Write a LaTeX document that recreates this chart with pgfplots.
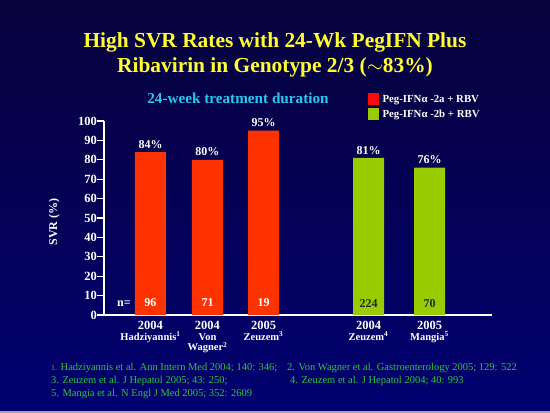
\documentclass[border=0pt]{standalone}
\usepackage{pgfplots}
\pgfplotsset{compat=1.18}
\usepackage{fontspec}
\setmainfont{Liberation Serif}
\definecolor{bgtop}{RGB}{8,2,60}
\definecolor{bgbot}{RGB}{0,0,112}
\definecolor{barred}{RGB}{255,51,0}
\definecolor{legred}{RGB}{250,10,10}
\definecolor{bargreen}{RGB}{153,204,0}
\definecolor{titley}{RGB}{255,255,51}
\definecolor{subcyan}{RGB}{40,200,240}
\definecolor{refgreen}{RGB}{45,200,60}
\begin{document}
\begin{tikzpicture}[x=1pt,y=1pt]
\useasboundingbox (0,0) rectangle (550,413);
\shade[top color=bgtop, bottom color=bgbot] (0,0) rectangle (550,413);
\fill[gray!70] (0,0) rectangle (550,2);
% title
\node[text=titley, font=\bfseries\fontsize{21.4}{25}\selectfont, align=center, anchor=base] at (275,365) {High SVR Rates with 24-Wk PegIFN Plus};
\node[text=titley, font=\bfseries\fontsize{21.4}{25}\selectfont, align=center, anchor=base] at (275,340) {Ribavirin in Genotype 2/3 ($\sim$83\%)};
\node[text=subcyan, font=\bfseries\fontsize{15.2}{18}\selectfont, anchor=base] at (238,309) {24-week treatment duration};
\begin{axis}[
  scale only axis, width=388pt, height=194pt,
  at={(104pt,98pt)}, anchor=south west,
  xmin=104, xmax=492, ymin=0, ymax=100,
  axis x line=bottom, axis y line=left,
  axis line style={white, line width=1.4pt, -},
  x axis line style={line width=1.6pt},
  ytick={0,10,...,100}, ytick style={white, line width=1.2pt},
  tick align=outside, major tick length=7pt,
  xtick={150.5,207.5,263.5,368.5,429.5}, xtick style={draw=none},
  xticklabels={2004,2004,2005,2004,2005},
  /pgf/number format/assume math mode=true,
  yticklabel style={text=white, font=\bfseries\fontsize{12.5}{14}\selectfont, inner xsep=0pt},
  xticklabel style={text=white, font=\bfseries\fontsize{12.5}{14}\selectfont, inner ysep=2pt, yshift=3.5pt},
  ylabel={SVR (\%)}, ylabel style={text=white, font=\bfseries\fontsize{12}{14}\selectfont, at={(axis description cs:-0.105,0.48)}},
  legend style={at={(0.68,1.145)}, anchor=north west, draw=none, fill=none, text=white,
    font=\bfseries\fontsize{10.8}{12}\selectfont, row sep=3pt, inner sep=0pt,
    nodes={inner xsep=3.5pt, inner ysep=1.5pt}},
  legend cell align=left,
  legend image code/.code={\fill[#1] (0pt,-5.5pt) rectangle (11pt,6.5pt);},
  clip=false,
  nodes near coords={\pgfmathprintnumber{\pgfplotspointmeta}\%},
  every node near coord/.append style={text=white, font=\bfseries\fontsize{12}{14}\selectfont, inner sep=3.5pt},
]
\addplot[ybar, bar width=31pt, bar shift=0pt, fill=barred, draw=none, forget plot] coordinates {(150.5,84) (207.5,80) (263.5,95)};
\addplot[ybar, bar width=31pt, bar shift=0pt, fill=bargreen, draw=none, forget plot] coordinates {(368.5,81) (429.5,76)};
\addlegendimage{fill=legred, draw=none}
\addlegendentry{Peg-IFNα -2a + RBV}
\addlegendimage{fill=bargreen, draw=none}
\addlegendentry{Peg-IFNα -2b + RBV}
% n values
\node[anchor=base, text=white, font=\bfseries\fontsize{12}{14}\selectfont] at (axis cs:124,4.3) {n=};
\node[anchor=base, text=white, font=\bfseries\fontsize{12}{14}\selectfont] at (axis cs:150.5,4.3) {96};
\node[anchor=base, text=white, font=\bfseries\fontsize{12}{14}\selectfont] at (axis cs:207.5,4.3) {71};
\node[anchor=base, text=white, font=\bfseries\fontsize{12}{14}\selectfont] at (axis cs:263.5,4.3) {19};
\node[anchor=base, text=black!85, font=\bfseries\fontsize{12}{14}\selectfont] at (axis cs:368.5,3.8) {224};
\node[anchor=base, text=black!85, font=\bfseries\fontsize{12}{14}\selectfont] at (axis cs:429.5,3.8) {70};
\end{axis}
% study names
\begin{scope}[every node/.style={anchor=base, text=white, font=\bfseries\fontsize{10.5}{11}\selectfont}]
\node at (150.5,72.5) {Hadziyannis\textsuperscript{1}};
\node at (207.5,72.5) {Von};
\node at (207.5,62) {Wagner\textsuperscript{2}};
\node at (263.5,72.5) {Zeuzem\textsuperscript{3}};
\node at (368.5,72.5) {Zeuzem\textsuperscript{4}};
\node at (429.5,72.5) {Mangia\textsuperscript{5}};
\end{scope}
% references
\begin{scope}[every node/.style={anchor=base west, text=refgreen, font=\fontsize{10.5}{12}\selectfont, inner sep=0pt}]
\node at (51,42) {{\fontsize{8}{10}\selectfont 1.} Hadziyannis et al. Ann Intern Med 2004; 140: 346;};
\node at (287,42) {2. Von Wagner et al. Gastroenterology 2005; 129: 522};
\node at (51,29) {3. Zeuzem et al. J Hepatol 2005; 43: 250;};
\node at (290,29) {4. Zeuzem et al. J Hepatol 2004; 40: 993};
\node at (51,16) {5. Mangia et al. N Engl J Med 2005; 352: 2609};
\end{scope}
\end{tikzpicture}
\end{document}
